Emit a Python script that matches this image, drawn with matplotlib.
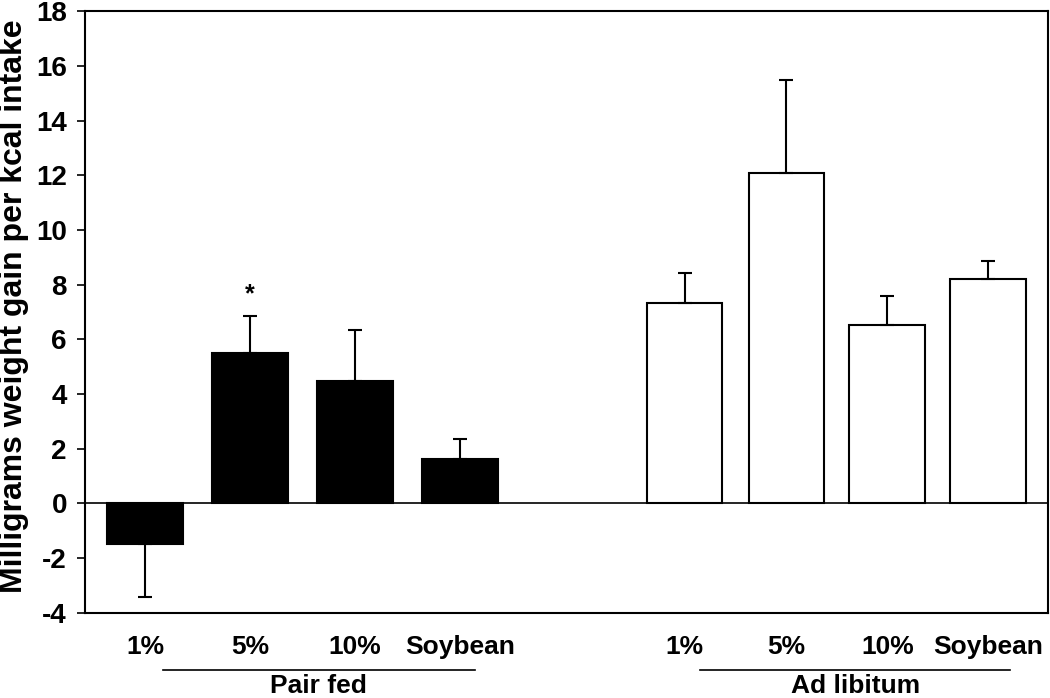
import matplotlib.pyplot as plt

plt.rcParams["font.family"] = ["Liberation Sans", "DejaVu Sans"]
plt.rcParams["font.weight"] = "bold"
plt.rcParams["axes.unicode_minus"] = False

# data
diets = ["1%", "5%", "10%", "Soybean"]
pair_fed_mean = [-1.49, 5.51, 4.47, 1.64]
pair_fed_err = [1.93, 1.34, 1.87, 0.71]
ad_lib_mean = [7.34, 12.08, 6.54, 8.20]
ad_lib_err = [1.10, 3.39, 1.04, 0.65]
groups = ["Pair fed", "Ad libitum"]

# layout
pair_x = [0, 1, 2, 3]
ad_lib_x = [5.14, 6.11, 7.07, 8.03]
bar_width = 0.72


def one_sided(means, errs):
    """Error bars point away from zero only"""
    lower = [e if m < 0 else 0 for m, e in zip(means, errs)]
    upper = [e if m >= 0 else 0 for m, e in zip(means, errs)]
    return [lower, upper]


fig = plt.figure(figsize=(10.5, 6.98), dpi=100)
ax = fig.add_axes([0.081, 0.122, 0.917, 0.862])

err_kw = dict(ecolor="black", elinewidth=1.5, capsize=5, capthick=1.5)
ax.bar(pair_x, pair_fed_mean, width=bar_width, color="black",
       edgecolor="black", linewidth=1.5,
       yerr=one_sided(pair_fed_mean, pair_fed_err), error_kw=err_kw)
ax.bar(ad_lib_x, ad_lib_mean, width=bar_width, color="white",
       edgecolor="black", linewidth=1.5,
       yerr=one_sided(ad_lib_mean, ad_lib_err), error_kw=err_kw)

# significance marker above pair fed 5%
ax.text(pair_x[1], pair_fed_mean[1] + pair_fed_err[1] + 0.35, "*",
        ha="center", va="bottom", fontsize=18, fontweight="bold")

ax.axhline(0, color="black", linewidth=1.2)

ax.set_xlim(-0.571, 8.6)
ax.set_ylim(-4, 18)
ax.set_yticks(range(-4, 19, 2))
ax.tick_params(axis="y", direction="out", length=6, width=1.2, pad=7,
               labelsize=20)
ax.set_xticks(pair_x + ad_lib_x)
ax.set_xticklabels(diets + diets, fontsize=19, fontweight="bold")
ax.tick_params(axis="x", length=0, pad=16)
for spine in ax.spines.values():
    spine.set_linewidth(1.5)

ax.set_ylabel("Milligrams weight gain per kcal intake", fontsize=23,
              fontweight="bold")
ax.yaxis.set_label_coords(-0.058, 0.51)

# group brackets under the tick labels
trans = ax.get_xaxis_transform()
for name, (x0, x1) in zip(groups, [(0.17, 3.14), (5.29, 8.24)]):
    ax.plot([x0, x1], [-0.095, -0.095], color="black", linewidth=1.2,
            transform=trans, clip_on=False)
    ax.text((x0 + x1) / 2, -0.102, name, transform=trans, ha="center",
            va="top", fontsize=19, fontweight="bold")

plt.savefig("out.png", dpi=100)
